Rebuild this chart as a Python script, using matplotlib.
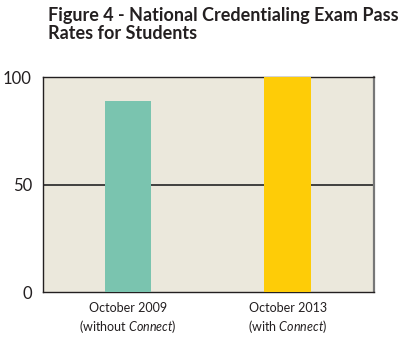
import numpy as np
import matplotlib
matplotlib.use('Agg')
import matplotlib.pyplot as plt

#============================================
# pass rates, with / without Connect
#============================================
periods   = ['October 2009', 'October 2013']
notes     = ['without', 'with']
passrates = [89, 100]
colors    = ['#7AC4AF', '#FECC07']
yticks    = [0, 50, 100]

plt.rcParams['font.family'] = ['Lato', 'DejaVu Sans']
plt.rcParams['mathtext.fontset'] = 'custom'
plt.rcParams['mathtext.rm'] = 'Lato'
plt.rcParams['mathtext.it'] = 'Lato:italic'

fig = plt.figure(figsize=(4.10, 3.37), dpi=100)
ax = fig.add_axes([43/410, 1-292.3/337, 331/410, 215/337])
ax.set_facecolor('#EBE8DC')

x = np.arange(len(periods))
ax.bar(x, passrates, width=0.29, color=colors, zorder=3)
ax.axhline(50, color='#333333', lw=1.3, zorder=2)

ax.set_xlim(-0.53, 1.54)
ax.set_ylim(0, 100)
ax.set_yticks(yticks)
ax.set_yticklabels([str(v) for v in yticks], fontsize=12, color='#231F20')
labels = ['%s\n(%s $\\mathit{Connect}$)' % (p, n) for p, n in zip(periods, notes)]
ax.set_xticks(x)
ax.set_xticklabels(labels, fontsize=9, color='#231F20', linespacing=1.3)
ax.tick_params(axis='x', length=0, pad=7)
ax.tick_params(axis='y', length=0, pad=8)

for s in ['left', 'top', 'bottom']:
    ax.spines[s].set_color('#231F20')
    ax.spines[s].set_linewidth(1.0)
ax.spines['right'].set_color('#777777')
ax.spines['right'].set_linewidth(1.6)

fig.text(48/410, 1-7/337, 'Figure 4 - National Credentialing Exam Pass\nRates for Students',
         ha='left', va='top', fontsize=13, fontweight='bold', color='#231F20',
         linespacing=1.1)

plt.savefig('out.png', dpi=100)
